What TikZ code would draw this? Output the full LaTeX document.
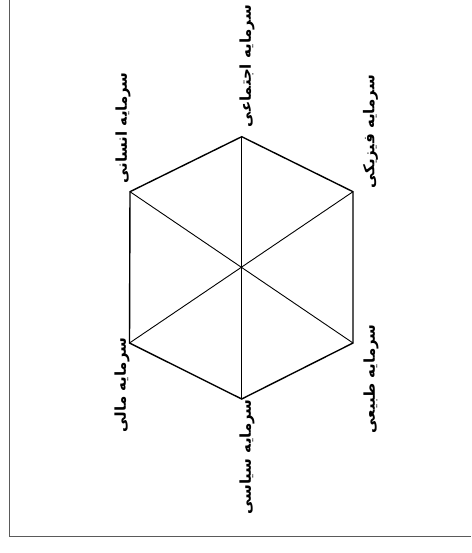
\documentclass[tikz,border=0pt]{standalone}
\usepackage{fontspec}
\newfontfamily\persianfont[Script=Arabic]{DejaVu Sans}
\TeXXeTstate=1
\tikzset{
  capname/.style={rotate=90, inner sep=0.75pt, font=\persianfont\bfseries\fontsize{15}{17}\selectfont},
  rim/.style={line width=1.4pt},
  spoke/.style={line width=0.9pt},
  frame/.style={line width=0.8pt, color={rgb,255:red,90;green,90;blue,90}}
}
\begin{document}
\begin{tikzpicture}[x=1pt,y=1pt,yscale=-1,xscale=1]
\useasboundingbox (0,0) rectangle (471,553);

%Corners of the hexagon
\coordinate (top) at (241.7,136.7);
\coordinate (upleft) at (130,191.7);
\coordinate (upright) at (353,191.7);
\coordinate (lowleft) at (129.5,343);
\coordinate (lowright) at (353,343);
\coordinate (bottom) at (241.7,399);

%Frame
\coordinate (frametop) at (9,0);
\coordinate (framecorner) at (9,536);
\coordinate (frameend) at (471,536);
\draw [frame] (frametop) -- (framecorner) -- (frameend) ;

%Shape: Hexagon
\draw [rim, line join=miter] (top) -- (upright) -- (lowright) -- (bottom) -- (lowleft) -- (upleft) -- cycle ;
%Straight Lines
\draw [spoke] (top) -- (bottom) ;
\draw [spoke] (upleft) -- (lowright) ;
\draw [spoke] (upright) -- (lowleft) ;

% Text Node
\node [capname] (social) at (247,66) {\beginR سرمایه اجتماعی\endR};
% Text Node
\node [capname] (human) at (123,128) {\beginR سرمایه انسانی\endR};
% Text Node
\node [capname] (physical) at (370.5,132) {\beginR سرمایه فیزیکی\endR};
% Text Node
\node [capname] (financial) at (122,385) {\beginR سرمایه مالی\endR};
% Text Node
\node [capname] (political) at (247,457) {\beginR سرمایه سیاسی\endR};
% Text Node
\node [capname] (natural) at (371,379) {\beginR سرمایه طبیعی\endR};

\end{tikzpicture}
\end{document}
